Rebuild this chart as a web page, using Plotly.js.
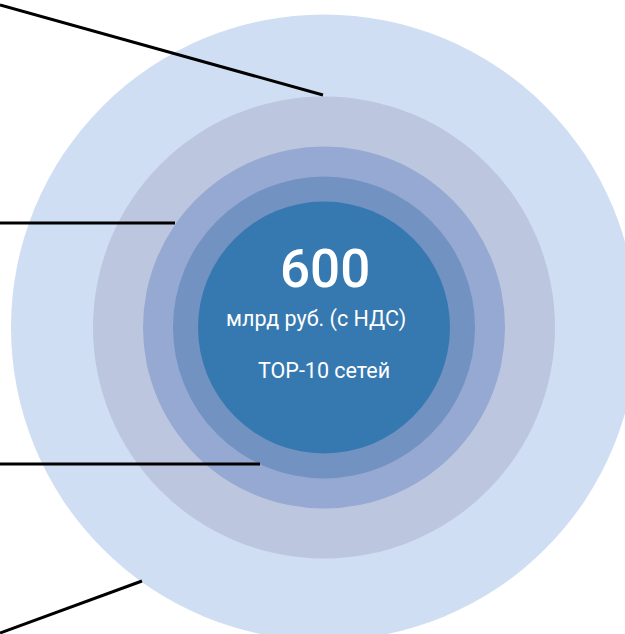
<!DOCTYPE html>
<html>
<head>
<meta charset="utf-8">
<script src="https://cdn.plot.ly/plotly-3.0.1.min.js"></script>
<style>
  html, body { margin: 0; padding: 0; background: #ffffff; }
  #chart { width: 625px; height: 634px; }
</style>
</head>
<body>
<div id="chart"></div>
<script>
// Concentric market rings, outermost first (radius in plot units)
const ringNames = ['ring1', 'ring2', 'ring3', 'ring4', 'core'];
const ringRadius = [313, 231, 181, 151, 126];
const ringCenter = [324, 327.5];

// Leader lines running in from the left edge to each ring
const leaderStartX = [0, 0, 0, 0];
const leaderStartY = [5, 223, 464, 633];
const leaderEndX = [323, 175, 260, 142];
const leaderEndY = [95, 223, 464, 581];

// Centre labels
const coreValue = '600';
const coreUnit = 'млрд руб. (с НДС)';
const coreCaption = 'TOP-10 сетей';

const ringColors = ['#cfdef3', '#bcc6de', '#95a9d2', '#7292c1', '#3679b1'];

const shapes = [];
ringRadius.forEach(function (r, i) {
  shapes.push({
    type: 'circle', xref: 'x', yref: 'y', layer: 'below',
    x0: ringCenter[0] - r, x1: ringCenter[0] + r,
    y0: ringCenter[1] - r, y1: ringCenter[1] + r,
    fillcolor: ringColors[i], line: { width: 0 }
  });
});

const traces = leaderStartX.map(function (x0, i) {
  return {
    type: 'scatter', mode: 'lines', hoverinfo: 'skip', showlegend: false,
    x: [x0, leaderEndX[i]], y: [leaderStartY[i], leaderEndY[i]],
    line: { color: '#000000', width: 3 }
  };
});

const textFont = 'Roboto, sans-serif';

const annotations = [
  { text: coreValue, x: ringCenter[0] + 0.5, y: 269, font: { family: textFont, size: 53, color: '#ffffff', weight: 500 } },
  { text: coreUnit, x: ringCenter[0] - 8, y: 319, font: { family: textFont, size: 21.5, color: '#ffffff' } },
  { text: coreCaption, x: ringCenter[0], y: 370, font: { family: textFont, size: 21.5, color: '#ffffff' } }
].map(function (a) {
  return Object.assign({ xref: 'x', yref: 'y', showarrow: false, xanchor: 'center', yanchor: 'middle' }, a);
});

const layout = {
  width: 625, height: 634,
  margin: { l: 0, r: 0, t: 0, b: 0 },
  paper_bgcolor: '#ffffff', plot_bgcolor: '#ffffff',
  xaxis: { range: [0, 625], visible: false, fixedrange: true },
  yaxis: { range: [634, 0], visible: false, fixedrange: true },
  shapes: shapes,
  annotations: annotations,
  showlegend: false
};

Plotly.newPlot('chart', traces, layout, { displayModeBar: false, staticPlot: true });
</script>
</body>
</html>
